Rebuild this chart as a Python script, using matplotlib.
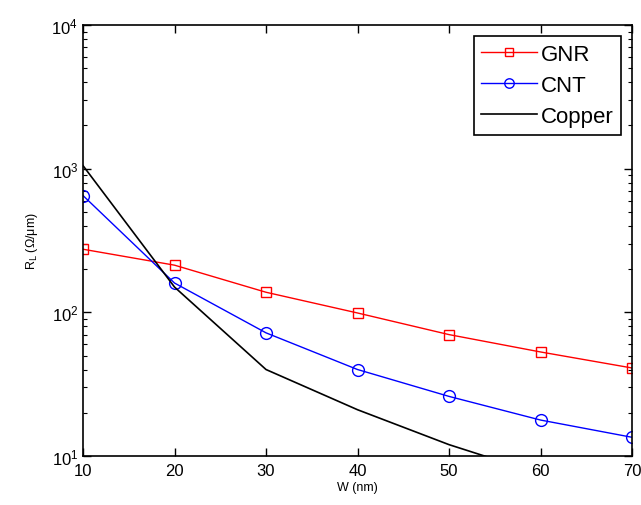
import matplotlib
matplotlib.use("Agg")
import matplotlib.pyplot as plt
from matplotlib.ticker import LogLocator, NullFormatter, FixedLocator

plt.rcParams['font.family'] = ['Liberation Sans', 'DejaVu Sans']

W = [10, 20, 30, 40, 50, 60, 70]
gnr = [275, 213, 138, 99, 70, 53, 41]
cnt = [650, 160, 72, 40, 26, 17.8, 13.5]
copper = [1050, 150, 40, 21, 12, 7.5, 5]

fig = plt.figure(figsize=(6.41, 5.06), dpi=100)
ax = fig.add_axes([0.1295, 0.0968, 0.8565, 0.8518])

ax.plot(W, gnr, color='red', marker='s', markersize=7, markerfacecolor='none',
        markeredgewidth=1, linewidth=1, label='GNR')
ax.plot(W, cnt, color='blue', marker='o', markersize=8.5, markerfacecolor='none',
        markeredgewidth=1, linewidth=1, label='CNT')
ax.plot(W, copper, color='black', linewidth=1.2, label='Copper')

ax.set_yscale('log')
ax.set_xlim(10, 70)
ax.set_ylim(10, 1e4)
ax.xaxis.set_major_locator(FixedLocator(W))
ax.yaxis.set_major_locator(LogLocator(base=10))
ax.yaxis.set_minor_locator(LogLocator(base=10, subs=range(2, 10)))
ax.yaxis.set_minor_formatter(NullFormatter())
ax.tick_params(which='both', direction='in', top=True, right=True, labelsize=12)
ax.tick_params(axis='x', pad=5)
ax.tick_params(which='major', length=6, width=1)
ax.tick_params(which='minor', length=3, width=0.8)
for s in ax.spines.values():
    s.set_linewidth(1.2)

ax.set_xlabel('W (nm)', fontsize=9, labelpad=2)
ax.set_ylabel('R$_\\mathrm{L}$ (Ω/μm)', fontsize=9, labelpad=8)

leg = ax.legend(loc='upper right', fontsize=16, fancybox=False, edgecolor='black',
                framealpha=1, handlelength=2.5, handletextpad=0.15,
                borderpad=0.35, labelspacing=0.45, borderaxespad=0.5,
                markerscale=0.8)
leg.get_frame().set_linewidth(1.2)

fig.savefig('out.png', dpi=100)
